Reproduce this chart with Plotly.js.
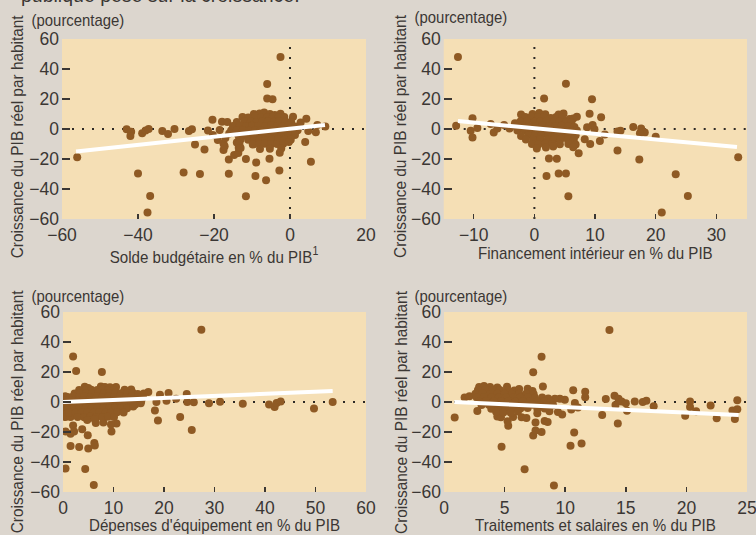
<!DOCTYPE html>
<html><head><meta charset="utf-8">
<script src="https://cdn.plot.ly/plotly-3.0.1.min.js"></script>
<style>html,body{margin:0;padding:0;background:#dcd6ce}#c{width:756px;height:535px}</style>
</head><body><div id="c"></div>
<script>
const soldePoints = [
[-2.5,48],[-6,30],[-6,20.4],[-4.6,19.8],[-20.4,6.2],[-17.9,4.9],[-16.5,4.7],[-43,-0.2],[-41.8,-1.8],[-42,-4.7],[-38.9,-2.9],[-38,-1],[-37.2,0],[-33.6,-1.3],[-32.1,-3.3],[-30.4,0],[-26.6,-1.3],[-25.8,-0.2],[-25,-10.4],[-22.5,-13.6],[-21.6,-1],[-56,-18.9],[-40,-29.6],[-36.8,-44.7],[-37.5,-55.6],[-28,-29],[-23.7,-30],[-16.1,-29.8],[-11.6,-20],[-8.9,-22.4],[-9.1,-31.3],[-6.3,-34.2],[-2.8,-27.6],[-5.4,-19.8],[-11.6,-44.9],[5.5,-21.8],[4,-8.7],[-2.7,-15.8],[-16.1,-20.4],[-14.7,-17.3],[-13.6,-16],[-17.5,-14],[-17.5,-9.6],[-19,-7.3],[-20.3,-4],[-18.5,-0.7],[9.3,1.6],[7.2,2.7],[6.8,-2.2],[4.8,-1.3],[4.3,6.9],[2.8,4.4],[0.8,8.2],[1.2,-2.9],
[-13.5,-12.5],[-14,-9],[-17,-6],[-16,-3],[-15.5,-1],[-17.2,-11.5],[-13.4,-7],
[-9.5,10],[-8,10.4],[-6.8,11],[-5.3,10],[-4,9.4],[-2.5,10.2],
[-12.5,8],[-11,7.6],[-9,8.3],[-7.5,8],[-6,7.7],[-4.5,8.2],[-3,7.8],[-1.5,8],
[-14,4.6],[-12,5.2],[-10.3,5],[-8.8,4.7],[-7.2,5.3],[-5.8,5],[-4.2,4.8],[-2.9,5.1],[-1.2,5],[0.3,4.6],
[-15,2],[-13.2,2.3],[-11.6,1.8],[-10,2.2],[-8.4,2],[-6.6,1.7],[-5,2.3],[-3.4,2],[-1.9,1.8],[-0.4,2.2],[1.4,1.6],
[-14,-1],[-12.4,-0.7],[-10.8,-1.2],[-9.2,-1],[-7.7,-0.8],[-6,-1.2],[-4.4,-1],[-2.7,-0.7],[-1,-1.1],[0.6,-1],[2,-0.8],
[-13.6,-4],[-12,-4.3],[-10,-3.8],[-8.5,-4],[-7,-4.2],[-5.4,-3.9],[-3.8,-4],[-2.2,-4.2],[-0.5,-3.8],[1.3,-4],
[-13,-7],[-11,-7.2],[-9.5,-6.8],[-8,-7],[-6.5,-7.3],[-4.8,-7],[-3.1,-6.8],[-1.4,-7],[0.2,-7.2],
[-13.3,-10],[-9.8,-10.3],[-8.1,-10],[-6.6,-9.8],[-5,-10.2],[-3.4,-10],[-1.8,-9.8],[-0.3,-8.6],
[-13,-12.6],[-7.9,-13.4],[-5.3,-13.2],[-2.3,-13]
];
const financementPoints = [
[-12.6,48],[5.2,30.2],[1.6,20.4],[9.5,19.8],[9.1,10.2],[11,7.8],[-12.9,2.2],[-10.2,7.1],[-10.5,-1.1],[-10.2,-5.6],[-9.4,0.7],[-7.2,3.3],[-6.7,-2.4],[-6.1,0.4],[-5,2.7],[-4.1,0.4],[-3.2,3.8],[33.6,-18.9],[23.3,-30.2],[25.3,-44.7],[21,-55.6],[17.3,-20.4],[13.7,-14.4],[20,-5.1],[16.3,1.3],[17.6,0.4],[18.2,-2.4],[17.4,-2.9],[14.2,-1.1],[13.7,-1.6],[11.6,-3.6],[10.8,-8],[9.2,-10],[8.3,-6.9],[9.9,-0.2],[9.6,2.7],[8.7,1.1],[7.3,-16.2],[2.4,-19.6],[3.7,-19.8],[2,-31.3],[4,-29.6],[5.2,-29.6],[5.6,-44.9],[7,8.2],
[-2.2,9.6],[-0.3,10],[0.8,10.6],[1.8,9.8],[4,9.6],[4.8,10.3],
[-1.5,8],[-0.5,8.2],[0.6,7.8],[1.6,8],[2.7,7.4],[3.6,8],[4.6,7.8],[5.8,6.6],[6.4,7],
[-2.3,5],[-1.2,5.2],[0,4.8],[1,5],[2,5.2],[3.2,4.8],[4.1,5],[5.2,4.7],[6.1,4.4],
[-3.1,2],[-2,2.2],[-0.9,1.8],[0.2,2],[1.3,2.2],[2.4,1.8],[3.5,2],[4.5,2.2],[5.6,1.8],[6.6,1.4],
[-2.8,-1],[-1.6,-0.8],[-0.4,-1.2],[0.8,-1],[1.9,-0.8],[3,-1.1],[4.1,-1],[5.2,-0.8],[6.3,-1.1],[7,-1],
[-2.2,-4.6],[-1,-4],[0.1,-4.2],[1.2,-3.8],[2.3,-4],[3.4,-4.2],[4.6,-3.8],[5.7,-4],[6.8,-4.2],
[-1.4,-7],[-0.2,-7.2],[1,-6.8],[2.2,-7],[3.2,-7.2],[4.3,-6.8],[5.5,-7],[6.5,-7.2],
[-0.4,-10],[0.7,-10.2],[1.8,-9.8],[3,-10],[4.2,-10.2],[5.6,-10],[6.8,-10.4],
[0.4,-13],[1.9,-12.4],[3.1,-11.6],[6.4,-12.2]
];
const equipementPoints = [
[27.4,48.2],[2,30.4],[2.6,20.7],[7.7,20],[0.4,3.8],[20.9,6],[24.5,5.3],[22.4,2.2],[20.5,0.9],[18.5,0],[19.2,4.9],[16.9,6.7],[24.6,0],[25.9,-0.2],[28.9,-0.9],[31.1,0.2],[35.6,-1.1],[40.8,-1.6],[41.9,-3.3],[42.3,-0.7],[43.1,0.4],[49.7,-4.4],[53.4,0],[18.2,-5.6],[18.8,-12.4],[23.2,-10],[25.5,-18.7],[0.1,-5.6],[0.5,-10],[1.5,-10],[2,-15.6],[0.5,-19.6],[1.5,-21.1],[2.2,-19.6],[3.8,-18.2],[4.9,-22.2],[1.5,-29.3],[3.2,-30],[5,-31],[6.2,-27.3],[6.3,-29],[0.5,-44.4],[4.4,-44.7],[6.1,-55.3],[9.6,-19.6],[10.6,-14.4],[9.5,-15],[8,-13.6],[6.5,-14],[10.5,10],
[0.3,-3],[0.5,-1],[0.4,1.2],
[4.3,10.2],[5,9.4],[7.5,10.4],[8.3,10],[9.3,9.8],
[3.2,8],[4.5,8],[5.6,8.2],[6.8,8],[7.8,8.2],[8.9,7.8],[10,8],[12.2,8.2],[13.5,8.4],
[2.3,5.6],[3.5,6],[4.6,5.8],[5.8,6],[7,6.2],[8.1,5.8],[9.2,6],[10.4,6.2],[11.5,5.8],[12.7,6],[13.8,6.2],[14.8,5.4],[16,5.6],
[0.9,3.4],[2,3.6],[3.2,3.4],[4.3,3.6],[5.5,3.4],[6.7,3.6],[7.8,3.4],[9,3.6],[10.1,3.4],[11.3,3.6],[12.5,3.4],[13.6,3.6],[14.8,3.4],[15.8,3.2],
[0.6,1],[1.8,1.2],[3,0.8],[4,1],[5.2,1.2],[6.3,0.8],[7.5,1],[8.6,1.2],[9.8,0.8],[10.9,1],[12.1,1.2],[13.3,0.8],[14.4,1],[15.5,0.6],
[0.7,-1.5],[1.9,-1.7],[3.1,-1.3],[4.2,-1.5],[5.4,-1.7],[6.6,-1.3],[7.7,-1.5],[8.9,-1.7],[10,-1.3],[11.2,-1.5],[12.4,-1.7],[13.5,-1.3],[14.3,-1.6],[15.4,-0.8],
[1,-4],[2.2,-4.2],[3.3,-3.8],[4.5,-4],[5.7,-4.2],[6.8,-3.8],[8,-4],[9.1,-4.2],[10.3,-3.8],[11.5,-4],[12.7,-4.2],[13.9,-3],
[1.2,-7],[2.5,-7.2],[3.7,-6.8],[4.9,-7],[6,-7.2],[7.2,-6.8],[8.4,-7],[9.5,-7.2],[10.7,-6.8],[12,-7],
[2.9,-10],[4.2,-10.2],[5.4,-9.8],[6.6,-10],[7.8,-10.2],[8.9,-9.8],[10.1,-10],
[4.8,-12],[6.3,-11.6]
];
const traitementsPoints = [
[13.65,48],[8.05,30.2],[7.36,19.8],[0.88,-10.4],[2.75,-6],[4.75,-29.8],[6.65,-44.9],[9.07,-55.6],[10.44,-29.1],[11.35,-27.6],[10.74,-20.4],[8.05,-20],[7.36,-22.4],[7.55,-19],[7.55,-13.6],[8.3,-12.7],[8.55,-13.3],[5.3,-15.8],[5.25,-12.9],[5.7,-10],[4.4,-9.6],[4.7,-10.2],[6.4,-10.2],[6.8,-10.7],[10.66,7.8],[11.65,6.9],[11.65,3.1],[8.16,10.4],[13.35,2],[13.05,-8.7],[14.07,4.2],[14.4,2.2],[14.15,-2],[14.65,0.4],[15,-0.9],[15.1,-5.8],[14.34,-14.4],[15.74,0.4],[16.4,0],[16.7,0.9],[17.3,-2.9],[19.9,-9.1],[20.3,0.4],[20.3,-3.3],[20.8,-6.2],[22,-2.4],[22.5,-10.9],[23.8,-5.6],[24,-11.3],[24.2,1.1],[24.2,-4.9],[10.8,-0.7],[11.05,-3.6],[9.97,1.5],[9.56,2.2],[9.15,2.2],[9.75,-8.4],[9.4,-6.7],[10.5,-5],[8.7,-6.2],
[2.9,10],[3.3,10.6],[3.8,10],[4.4,9.6],[5.2,10.2],
[2.8,8],[3.4,8.2],[4,7.8],[4.6,8],[5.2,8.2],[5.8,7.6],[6.2,8.6],[6.9,8.8],[7.3,7.4],
[2.6,5.5],[3.2,5.7],[3.8,5.3],[4.4,5.5],[5,5.7],[5.6,5.3],[6.2,5.5],[6.8,5.7],[7.4,5.2],
[1.7,3],[2.1,3.8],[2.7,3],[3.3,3.2],[3.9,2.8],[4.5,3],[5.1,3.2],[5.7,2.8],[6.3,3],[6.9,3.2],[7.5,2.8],[8.1,3],[8.6,2.4],
[2.9,0.5],[3.5,0.7],[4.1,0.3],[4.7,0.5],[5.3,0.7],[5.9,0.3],[6.5,0.5],[7.1,0.7],[7.7,0.3],[8.3,0.5],[8.8,0.2],
[3.1,-2],[3.7,-1.8],[4.3,-2.2],[4.9,-2],[5.5,-1.8],[6.1,-2.2],[6.7,-2],[7.3,-1.8],[7.9,-2.2],[8.5,-2],[9,-2.2],
[3.9,-4.5],[4.5,-4.3],[5.1,-4.7],[5.7,-4.5],[6.3,-4.3],[6.9,-4],[7.7,-4.5],[8.3,-4.3],
[4.3,-6.5],[4.9,-7],[5.5,-7.2],[6.1,-6.4],[7.7,-7.5]
];
const soldeTrend = {x:[-56.3,9.2], y:[-15,2.7]};
const financementTrend = {x:[-12.6,33.4], y:[5.3,-12]};
const equipementTrend = {x:[0,53.4], y:[0,7.3]};
const traitementsTrend = {x:[0.85,24.3], y:[0,-8.7]};
const xRanges = [[-60,20],[-14.95,35.05],[0,60],[0,25]];
const xTicks = [[-60,-40,-20,0,20],[-10,0,10,20,30],[0,10,20,30,40,50,60],[0,5,10,15,20,25]];
const yTicks = [-60,-40,-20,0,20,40,60];
const xTitles = ["Solde budgétaire en % du PIB<sup>1</sup>","Financement intérieur en % du PIB","Dépenses d'équipement en % du PIB","Traitements et salaires en % du PIB"];
const yTitle = "Croissance du PIB réel par habitant";
const unitLabel = "(pourcentage)";
const headline = "publique pèse sur la croissance.";

const W=756,H=535;
const boxes=[[62,366,39,219],[443.7,747,39,219],[63,366,312,492],[444,747,312,492]];
const face='"Liberation Sans",sans-serif';
const ink='#3b3734',dot='#8f5a24';
const allPts=[soldePoints,financementPoints,equipementPoints,traitementsPoints];
const trends=[soldeTrend,financementTrend,equipementTrend,traitementsTrend];
const hasV=[true,true,false,false];
const unitPos=[[77.5,20],[461,18],[78,296],[461,296]];
const yTitlePos=[[18,137],[400.7,136],[17,412],[400.7,412]];
const xStandoff=[0,3,6,6];
const traces=[];const layout={width:W,height:H,margin:{l:0,r:0,t:0,b:0},paper_bgcolor:'#dcd6ce',plot_bgcolor:'#f5dfb5',showlegend:false,hovermode:false,font:{family:face,color:ink},annotations:[]};
boxes.forEach((b,i)=>{
  const s=i?String(i+1):'';
  layout['xaxis'+s]={domain:[b[0]/W,b[1]/W],range:xRanges[i],tickmode:'array',tickvals:xTicks[i],ticks:'inside',ticklen:5,tickwidth:1.5,tickcolor:ink,showgrid:false,zeroline:false,showline:false,anchor:'y'+s,ticklabelstandoff:3,ticklabeloverflow:'allow',tickfont:{family:face,size:17.5,color:ink},title:{text:xTitles[i],font:{family:face,size:17,color:ink},standoff:xStandoff[i]},automargin:false};
  layout['yaxis'+s]={domain:[1-b[3]/H,1-b[2]/H],range:[-60,60],tickmode:'array',tickvals:yTicks,ticks:'inside',ticklen:8,tickwidth:1.5,tickcolor:ink,showgrid:false,zeroline:false,showline:false,anchor:'x'+s,ticklabelstandoff:2,ticklabeloverflow:'allow',tickfont:{family:face,size:17.5,color:ink},automargin:false};
  const xa='x'+s,ya='y'+s;
  traces.push({x:xRanges[i],y:[0,0],xaxis:xa,yaxis:ya,mode:'lines',line:{color:'#2e2a26',width:2,dash:'2px,8px'}});
  if(hasV[i])traces.push({x:[0,0],y:[-60,56],xaxis:xa,yaxis:ya,mode:'lines',line:{color:'#2e2a26',width:2,dash:'2px,8px'}});
  traces.push({x:allPts[i].map(p=>p[0]),y:allPts[i].map(p=>p[1]),xaxis:xa,yaxis:ya,mode:'markers',marker:{color:dot,size:8,line:{width:0}}});
  traces.push({x:trends[i].x,y:trends[i].y,xaxis:xa,yaxis:ya,mode:'lines',line:{color:'#ffffff',width:4}});
  layout.annotations.push({xref:'paper',yref:'paper',x:unitPos[i][0]/W,y:1-unitPos[i][1]/H,xanchor:'center',yanchor:'middle',text:unitLabel,showarrow:false,font:{family:face,size:17,color:ink}});
  layout.annotations.push({xref:'paper',yref:'paper',x:yTitlePos[i][0]/W,y:1-yTitlePos[i][1]/H,xanchor:'center',yanchor:'middle',textangle:-90,text:yTitle,showarrow:false,font:{family:face,size:17,color:ink}});
});
layout.annotations.push({xref:'paper',yref:'paper',x:160/W,y:1-7/H,xanchor:'center',yanchor:'bottom',text:headline,showarrow:false,font:{family:face,size:19.5,color:ink},borderpad:0});
Plotly.newPlot('c',traces,layout,{displayModeBar:false,staticPlot:true}).then(()=>{
  const condense=t=>t===yTitle?0.905:t===unitLabel?0.875:0.89;
  document.querySelectorAll('#c text.annotation-text, #c text.xtitle, #c text.x2title, #c text.x3title, #c text.x4title').forEach(t=>{
    if(t.textContent===headline)return;
    t.setAttribute('textLength',(t.getComputedTextLength()*condense(t.textContent)).toFixed(1));
    t.setAttribute('lengthAdjust','spacingAndGlyphs');
  });
});
</script></body></html>
